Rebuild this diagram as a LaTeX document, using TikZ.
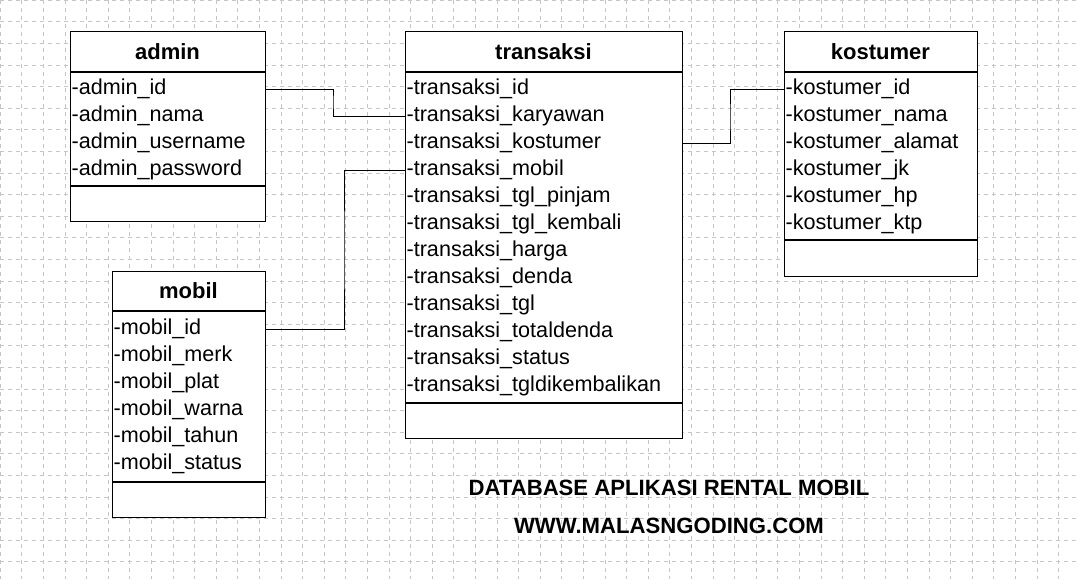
\documentclass[tikz,border=0pt]{standalone}
\usepackage{fontspec}
\setmainfont{Liberation Sans}
\tikzset{
  tbl/.style={draw, line width=1pt, anchor=north west, inner sep=0pt},
  head/.style={font=\fontsize{16.5}{19}\selectfont\bfseries},
  attr/.style={anchor=west, inner sep=1pt, font=\fontsize{16.2}{19}\selectfont},
  link/.style={draw, line width=0.6pt},
  title/.style={font=\fontsize{16.6}{19}\selectfont\bfseries}
}
\begin{document}
\begin{tikzpicture}[x=0.75pt, y=-0.75pt]
    \useasboundingbox (0,0) rectangle (1079,579);
    \fill[white] (0,0) rectangle (1079,579);
    \foreach \g in {0,21.6,...,1079} \draw[gray!45, dashed, line width=0.4pt] (\g,0) -- (\g,579);
    \foreach \g in {0,21.6,...,579} \draw[gray!45, dashed, line width=0.4pt] (0,\g) -- (1079,\g);

    % admin
    \node[tbl, fill=white, minimum width=195*0.75pt, minimum height=190*0.75pt] (admin) at (70,31) {};
    \draw[line width=1pt] (70,72) -- (265,72) (70,186) -- (265,186);
    \node[head] at (167.5,51.5) {admin};
    \node[attr] (aid) at (70,89) {-admin\_id};
    \node[attr] (anama) at (70,116) {-admin\_nama};
    \node[attr] (auser) at (70,143) {-admin\_username};
    \node[attr] (apass) at (70,170) {-admin\_password};

    % transaksi
    \node[tbl, fill=white, minimum width=277*0.75pt, minimum height=407*0.75pt] (transaksi) at (405,31) {};
    \draw[line width=1pt] (405,72) -- (682,72) (405,403) -- (682,403);
    \node[head] at (543.5,51.5) {transaksi};
    \foreach \t [count=\i] in {id,karyawan,kostumer,mobil,tgl\_pinjam,tgl\_kembali,harga,denda,tgl,totaldenda,status,tgldikembalikan}
      \node[attr] (t\i) at (405,62+27*\i) {-transaksi\_\t};

    % kostumer
    \node[tbl, fill=white, minimum width=193*0.75pt, minimum height=245*0.75pt] (kostumer) at (784,31) {};
    \draw[line width=1pt] (784,72) -- (977,72) (784,240) -- (977,240);
    \node[head] at (880.5,51.5) {kostumer};
    \foreach \k [count=\i] in {id,nama,alamat,jk,hp,ktp}
      \node[attr] (k\i) at (784,62+27*\i) {-kostumer\_\k};

    % mobil
    \node[tbl, fill=white, minimum width=153*0.75pt, minimum height=246*0.75pt] (mobil) at (112,271) {};
    \draw[line width=1pt] (112,311) -- (265,311) (112,482) -- (265,482);
    \node[head] at (188.5,291) {mobil};
    \foreach \m [count=\i] in {id,merk,plat,warna,tahun,status}
      \node[attr] (m\i) at (112,302+27*\i) {-mobil\_\m};

    % relasi
    \draw[link] (admin.east |- aid) -| (333,101.5) |- (transaksi.west |- t2);
    \draw[link] (transaksi.east |- t3) -| (730,118) |- (kostumer.west |- k1);
    \draw[link] (mobil.east |- m1) -| (344,250) |- (transaksi.west |- t4);

    \node[title] (judul) at (669,488) {DATABASE APLIKASI RENTAL MOBIL};
    \node[title] (situs) at (669,526) {WWW.MALASNGODING.COM};
\end{tikzpicture}
\end{document}
